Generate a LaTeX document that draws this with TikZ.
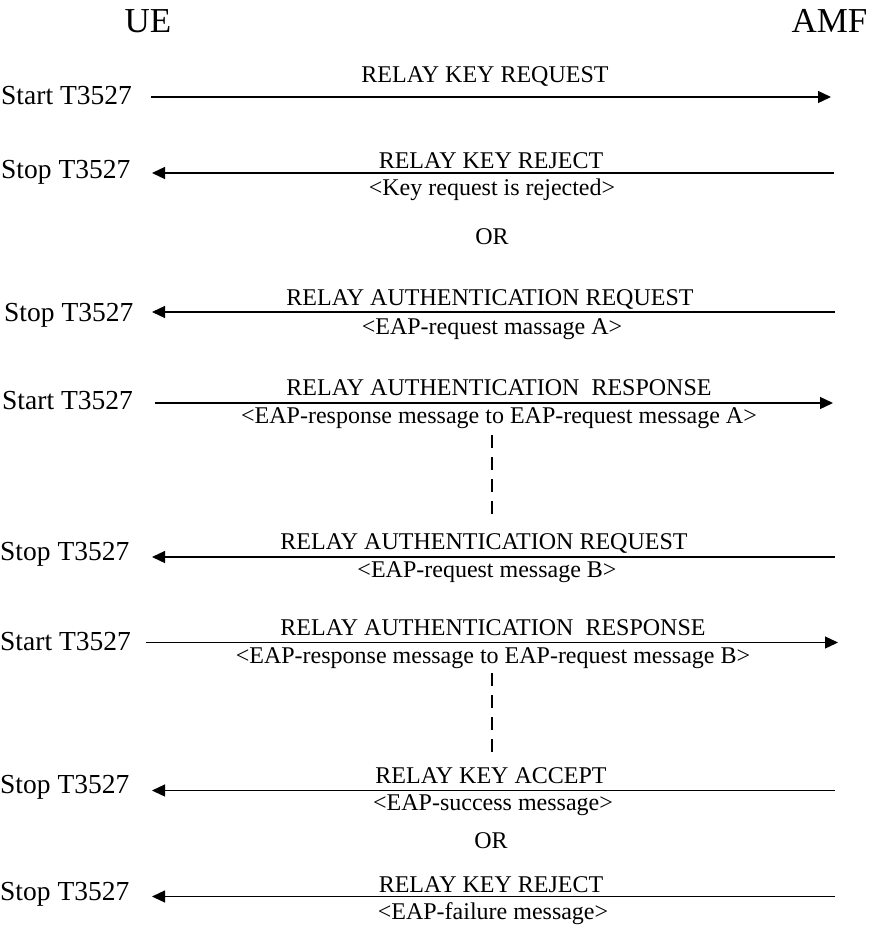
\documentclass[tikz,border=0pt]{standalone}
\usepackage{fontspec}
\setmainfont{Liberation Serif}
\usetikzlibrary{arrows.meta}
\begin{document}
\begin{tikzpicture}[x=1pt,y=-1pt,
  msg/.style={anchor=base,inner sep=0pt,font=\fontsize{24}{28}\selectfont},
  side/.style={anchor=base west,inner sep=0pt,font=\fontsize{27.5}{32}\selectfont},
  entity/.style={anchor=base,inner sep=0pt,font=\fontsize{35}{40}\selectfont},
  flow/.style={line width=1.3pt,-{Triangle[length=13pt,width=12pt]}},
  waitline/.style={line width=1.5pt,dash pattern=on 13pt off 9pt}]
\useasboundingbox (0,0) rectangle (891,934);
% entities
\node[entity] (ue) at (148,33) {UE};
\node[entity] (amf) at (829.5,33) {AMF};
% row 1
\node[side] (s1) at (1,104) {Start T3527};
\coordinate (a1s) at (151,97); \coordinate (a1e) at (831,97);
\draw[flow] (a1s) -- (a1e);
\node[msg] (m1) at (485,82.5) {RELAY KEY REQUEST};
% row 2
\node[side] (s2) at (1,178) {Stop T3527};
\coordinate (a2s) at (834,173); \coordinate (a2e) at (152,173);
\draw[flow] (a2s) -- (a2e);
\node[msg] (m2) at (491,168) {RELAY KEY REJECT};
\node[msg] (m2b) at (492,195) {<Key request is rejected>};
\node[msg] (or1) at (492,244) {OR};
% row 3
\node[side] (s3) at (4,321) {Stop T3527};
\coordinate (a3s) at (835,312); \coordinate (a3e) at (152,312);
\draw[flow] (a3s) -- (a3e);
\node[msg] (m3) at (490,305) {RELAY AUTHENTICATION REQUEST};
\node[msg] (m3b) at (492,334) {<EAP-request massage A>};
% row 4
\node[side] (s4) at (2,409) {Start T3527};
\coordinate (a4s) at (155,403); \coordinate (a4e) at (833,403);
\draw[flow] (a4s) -- (a4e);
\node[msg] (m4) at (499,395) {RELAY AUTHENTICATION~ RESPONSE};
\node[msg] (m4b) at (499,423) {<EAP-response message to EAP-request message A>};
% wait 1
\coordinate (w1s) at (492,435); \coordinate (w1e) at (492,521);
\draw[waitline] (w1s) -- (w1e);
% row 5
\node[side] (s5) at (0,560) {Stop T3527};
\coordinate (a5s) at (835,557); \coordinate (a5e) at (152,557);
\draw[flow] (a5s) -- (a5e);
\node[msg] (m5) at (484,549) {RELAY AUTHENTICATION REQUEST};
\node[msg] (m5b) at (487,577) {<EAP-request message B>};
% row 6
\node[side] (s6) at (0,650) {Start T3527};
\coordinate (a6s) at (146,642.5); \coordinate (a6e) at (838,642.5);
\draw[flow] (a6s) -- (a6e);
\node[msg] (m6) at (493,635) {RELAY AUTHENTICATION~ RESPONSE};
\node[msg] (m6b) at (493,663) {<EAP-response message to EAP-request message B>};
% wait 2
\coordinate (w2s) at (492,673); \coordinate (w2e) at (492,759);
\draw[waitline] (w2s) -- (w2e);
% row 7
\node[side] (s7) at (0,793) {Stop T3527};
\coordinate (a7s) at (835,790.5); \coordinate (a7e) at (152,790.5);
\draw[flow] (a7s) -- (a7e);
\node[msg] (m7) at (491,783) {RELAY KEY ACCEPT};
\node[msg] (m7b) at (493,810) {<EAP-success message>};
\node[msg] (or2) at (491,848) {OR};
% row 8
\node[side] (s8) at (0,900.5) {Stop T3527};
\coordinate (a8s) at (835,896.5); \coordinate (a8e) at (152,896.5);
\draw[flow] (a8s) -- (a8e);
\node[msg] (m8) at (491,892) {RELAY KEY REJECT};
\node[msg] (m8b) at (493,919) {<EAP-failure message>};
\end{tikzpicture}
\end{document}
